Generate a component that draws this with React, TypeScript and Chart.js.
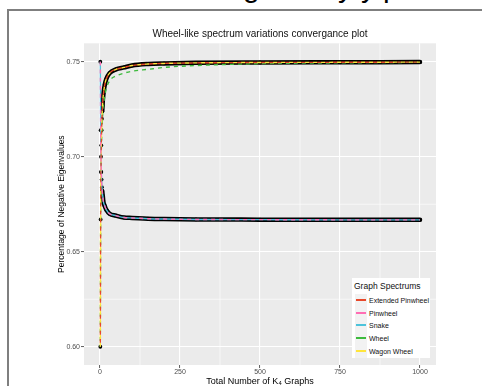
import React, { useEffect, useRef } from "react";
import { Chart, registerables } from "chart.js";
Chart.register(...registerables);

// Number of K4 graphs (x)
const nValues = [1, 2, 3, 4, 5, 6, 7, 8, 9, 10, 15, 20, 30, 50, 75, 100, 150, 200, 300, 500, 750, 1000];
// Percentage of negative eigenvalues per spectrum (y)
const extendedPinwheel = [0.600, 0.667, 0.692, 0.706, 0.714, 0.720, 0.724, 0.727, 0.730, 0.732, 0.738, 0.741, 0.744, 0.746, 0.747, 0.748, 0.7488, 0.7491, 0.7494, 0.7496, 0.7497, 0.7498];
const wagonWheel = [0.600, 0.667, 0.692, 0.706, 0.714, 0.720, 0.724, 0.727, 0.730, 0.732, 0.738, 0.741, 0.744, 0.746, 0.747, 0.748, 0.7488, 0.7491, 0.7494, 0.7496, 0.7497, 0.7498];
const wheel = [0.600, 0.667, 0.690, 0.702, 0.709, 0.714, 0.718, 0.721, 0.724, 0.726, 0.732, 0.736, 0.740, 0.7425, 0.744, 0.745, 0.746, 0.747, 0.748, 0.749, 0.7494, 0.7497];
const pinwheel = [0.750, 0.714, 0.700, 0.692, 0.688, 0.684, 0.682, 0.680, 0.679, 0.677, 0.674, 0.672, 0.670, 0.669, 0.668, 0.6678, 0.6674, 0.6672, 0.6670, 0.6669, 0.6668, 0.6668];
const snake = [0.750, 0.714, 0.700, 0.692, 0.688, 0.684, 0.682, 0.680, 0.679, 0.677, 0.674, 0.672, 0.670, 0.669, 0.668, 0.6678, 0.6674, 0.6672, 0.6670, 0.6669, 0.6668, 0.6668];

const xTicks = [0, 250, 500, 750, 1000];
const yTicks = [0.6, 0.65, 0.7, 0.75];
const xMinor = [125, 375, 625, 875];
const yMinor = [0.625, 0.675, 0.725];

const seriesNames = ["Extended Pinwheel", "Pinwheel", "Snake", "Wheel", "Wagon Wheel"];
const seriesColors = ["#E8482A", "#FF6EB4", "#4DC3DB", "#3DBB3D", "#FFE53B"];

const FONT = "'Liberation Sans', Arial, sans-serif";

const toPts = (ys: number[], from = 0) =>
  nValues.map((n, i) => ({ x: n, y: ys[i] })).filter((p) => p.x >= from);

const panelPlugin = {
  id: "panel",
  beforeDraw(chart: any) {
    const { ctx, chartArea: a, scales } = chart;
    ctx.save();
    ctx.fillStyle = "#EBEBEB";
    ctx.fillRect(a.left, a.top, a.right - a.left, a.bottom - a.top);
    ctx.strokeStyle = "#FFFFFF";
    ctx.lineWidth = 0.6;
    xMinor.forEach((v) => {
      const x = scales.x.getPixelForValue(v);
      ctx.beginPath();
      ctx.moveTo(x, a.top);
      ctx.lineTo(x, a.bottom);
      ctx.stroke();
    });
    yMinor.forEach((v) => {
      const y = scales.y.getPixelForValue(v);
      ctx.beginPath();
      ctx.moveTo(a.left, y);
      ctx.lineTo(a.right, y);
      ctx.stroke();
    });
    ctx.restore();
  },
};

export default function App() {
  const ref = useRef<HTMLCanvasElement>(null);
  useEffect(() => {
    if (!ref.current) return;
    const line = (label: string, ys: number[], color: string, dash: number[], offset: number, order: number) => ({
      label,
      data: toPts(ys),
      borderColor: color,
      backgroundColor: color,
      borderWidth: 1.4,
      borderDash: dash,
      borderDashOffset: offset,
      pointRadius: 0,
      cubicInterpolationMode: "monotone",
      order,
    });
    const chart = new Chart(ref.current, {
      type: "line",
      data: {
        datasets: [
          { label: "bandUpper", data: toPts(extendedPinwheel, 7), borderColor: "#000", borderWidth: 4.5, pointRadius: 0, borderCapStyle: "round", cubicInterpolationMode: "monotone", order: 30 } as any,
          { label: "bandLower", data: toPts(pinwheel, 7), borderColor: "#000", borderWidth: 4.5, pointRadius: 0, borderCapStyle: "round", cubicInterpolationMode: "monotone", order: 30 } as any,
          { label: "ptsUpper", data: toPts(extendedPinwheel), showLine: false, pointRadius: 1.9, pointBackgroundColor: "#000", pointBorderWidth: 0, order: 25 } as any,
          { label: "ptsLower", data: toPts(pinwheel), showLine: false, pointRadius: 1.9, pointBackgroundColor: "#000", pointBorderWidth: 0, order: 25 } as any,
          line(seriesNames[3], wheel, seriesColors[3], [4, 4], 2, 8),
          line(seriesNames[4], wagonWheel, seriesColors[4], [4, 4], 0, 6),
          line(seriesNames[0], extendedPinwheel, seriesColors[0], [4, 4], 4, 5),
          line(seriesNames[2], snake, seriesColors[2], [], 0, 7),
          line(seriesNames[1], pinwheel, seriesColors[1], [4, 4], 0, 4),
        ],
      },
      options: {
        animation: false,
        responsive: false,
        events: [],
        layout: { padding: { top: 28, right: 46, left: 0, bottom: 0 } },
        plugins: {
          legend: { display: false },
          tooltip: { enabled: false },
          title: {
            display: true,
            text: "Wheel-like spectrum variations convergance plot",
            color: "#111",
            font: { family: FONT, size: 10, weight: "normal" },
            padding: { top: 0.5, bottom: 2.8 },
            fullSize: false,
          } as any,
        },
        scales: {
          x: {
            type: "linear",
            min: -50,
            max: 1050,
            afterBuildTicks: (s: any) => {
              s.ticks = xTicks.map((v) => ({ value: v }));
            },
            afterFit: (s: any) => {
              s.height = 21;
            },
            ticks: {
              color: "#4D4D4D",
              font: { family: FONT, size: 7 },
              padding: 0,
              maxRotation: 0,
              autoSkip: false,
              callback: (v: any) => String(v),
            },
            grid: { color: "#FFFFFF", lineWidth: 1.1, tickColor: "#333333", tickLength: 3, tickWidth: 0.8 },
            border: { display: false },
            title: {
              display: true,
              text: "Total Number of K₄ Graphs",
              color: "#000",
              font: { family: FONT, size: 9, lineHeight: 1 },
              padding: { top: 0, bottom: -0.5 },
            },
          },
          y: {
            type: "linear",
            min: 0.5904,
            max: 0.7597,
            afterBuildTicks: (s: any) => {
              s.ticks = yTicks.map((v) => ({ value: v }));
            },
            afterFit: (s: any) => {
              s.width = 84;
            },
            ticks: {
              color: "#4D4D4D",
              font: { family: FONT, size: 7 },
              padding: 1,
              autoSkip: false,
              callback: (v: any) => Number(v).toFixed(2),
            },
            grid: { color: "#FFFFFF", lineWidth: 1.1, tickColor: "#333333", tickLength: 3, tickWidth: 0.8 },
            border: { display: false },
            title: {
              display: true,
              text: "Percentage of Negative Eigenvalues",
              color: "#000",
              font: { family: FONT, size: 8.5, lineHeight: 1.2 },
              padding: { top: 57, bottom: 0 },
            },
          },
        },
      } as any,
      plugins: [panelPlugin],
    });
    return () => chart.destroy();
  }, []);

  const topLetters = [
    { ch: "g", x: 243 },
    { ch: "y", x: 338 },
    { ch: "y", x: 361 },
    { ch: "p", x: 383 },
  ];

  const rowTops = [16, 29, 41, 54, 67];

  return (
    <div style={{ position: "absolute", left: 0, top: 0, width: 482, height: 386, overflow: "hidden", background: "#fff", fontFamily: FONT }}>
      {topLetters.map((l, i) => (
        <span key={i} style={{ position: "absolute", left: l.x, top: -28, fontSize: 30, lineHeight: "30px", color: "#000" }}>{l.ch}</span>
      ))}
      <div style={{ position: "absolute", left: 7, top: 9, width: 475, height: 2, background: "#7F7F7F" }} />
      <div style={{ position: "absolute", left: 7, top: 9, width: 2, height: 377, background: "#7F7F7F" }} />
      <canvas ref={ref} width={482} height={386} style={{ position: "absolute", left: 0, top: 0, width: 482, height: 386 }} />
      <div style={{ position: "absolute", left: 352, top: 278, width: 78, height: 80, background: "#fff" }}>
        <div style={{ position: "absolute", left: 2, top: 3, fontSize: 8.5, lineHeight: "10px", color: "#111", whiteSpace: "nowrap" }}>Graph Spectrums</div>
        {seriesNames.map((name, i) => (
          <div key={name} style={{ position: "absolute", left: 3, top: rowTops[i], height: 13, width: 74 }}>
            <div style={{ position: "absolute", left: 0, top: 0, width: 12, height: 13, background: "#F2F2F2" }} />
            <div style={{ position: "absolute", left: 1, top: 5, width: 10, height: 2, background: seriesColors[i] }} />
            <div style={{ position: "absolute", left: 14, top: 2, fontSize: 7, lineHeight: "9px", color: "#111", whiteSpace: "nowrap" }}>{name}</div>
          </div>
        ))}
      </div>
    </div>
  );
}
